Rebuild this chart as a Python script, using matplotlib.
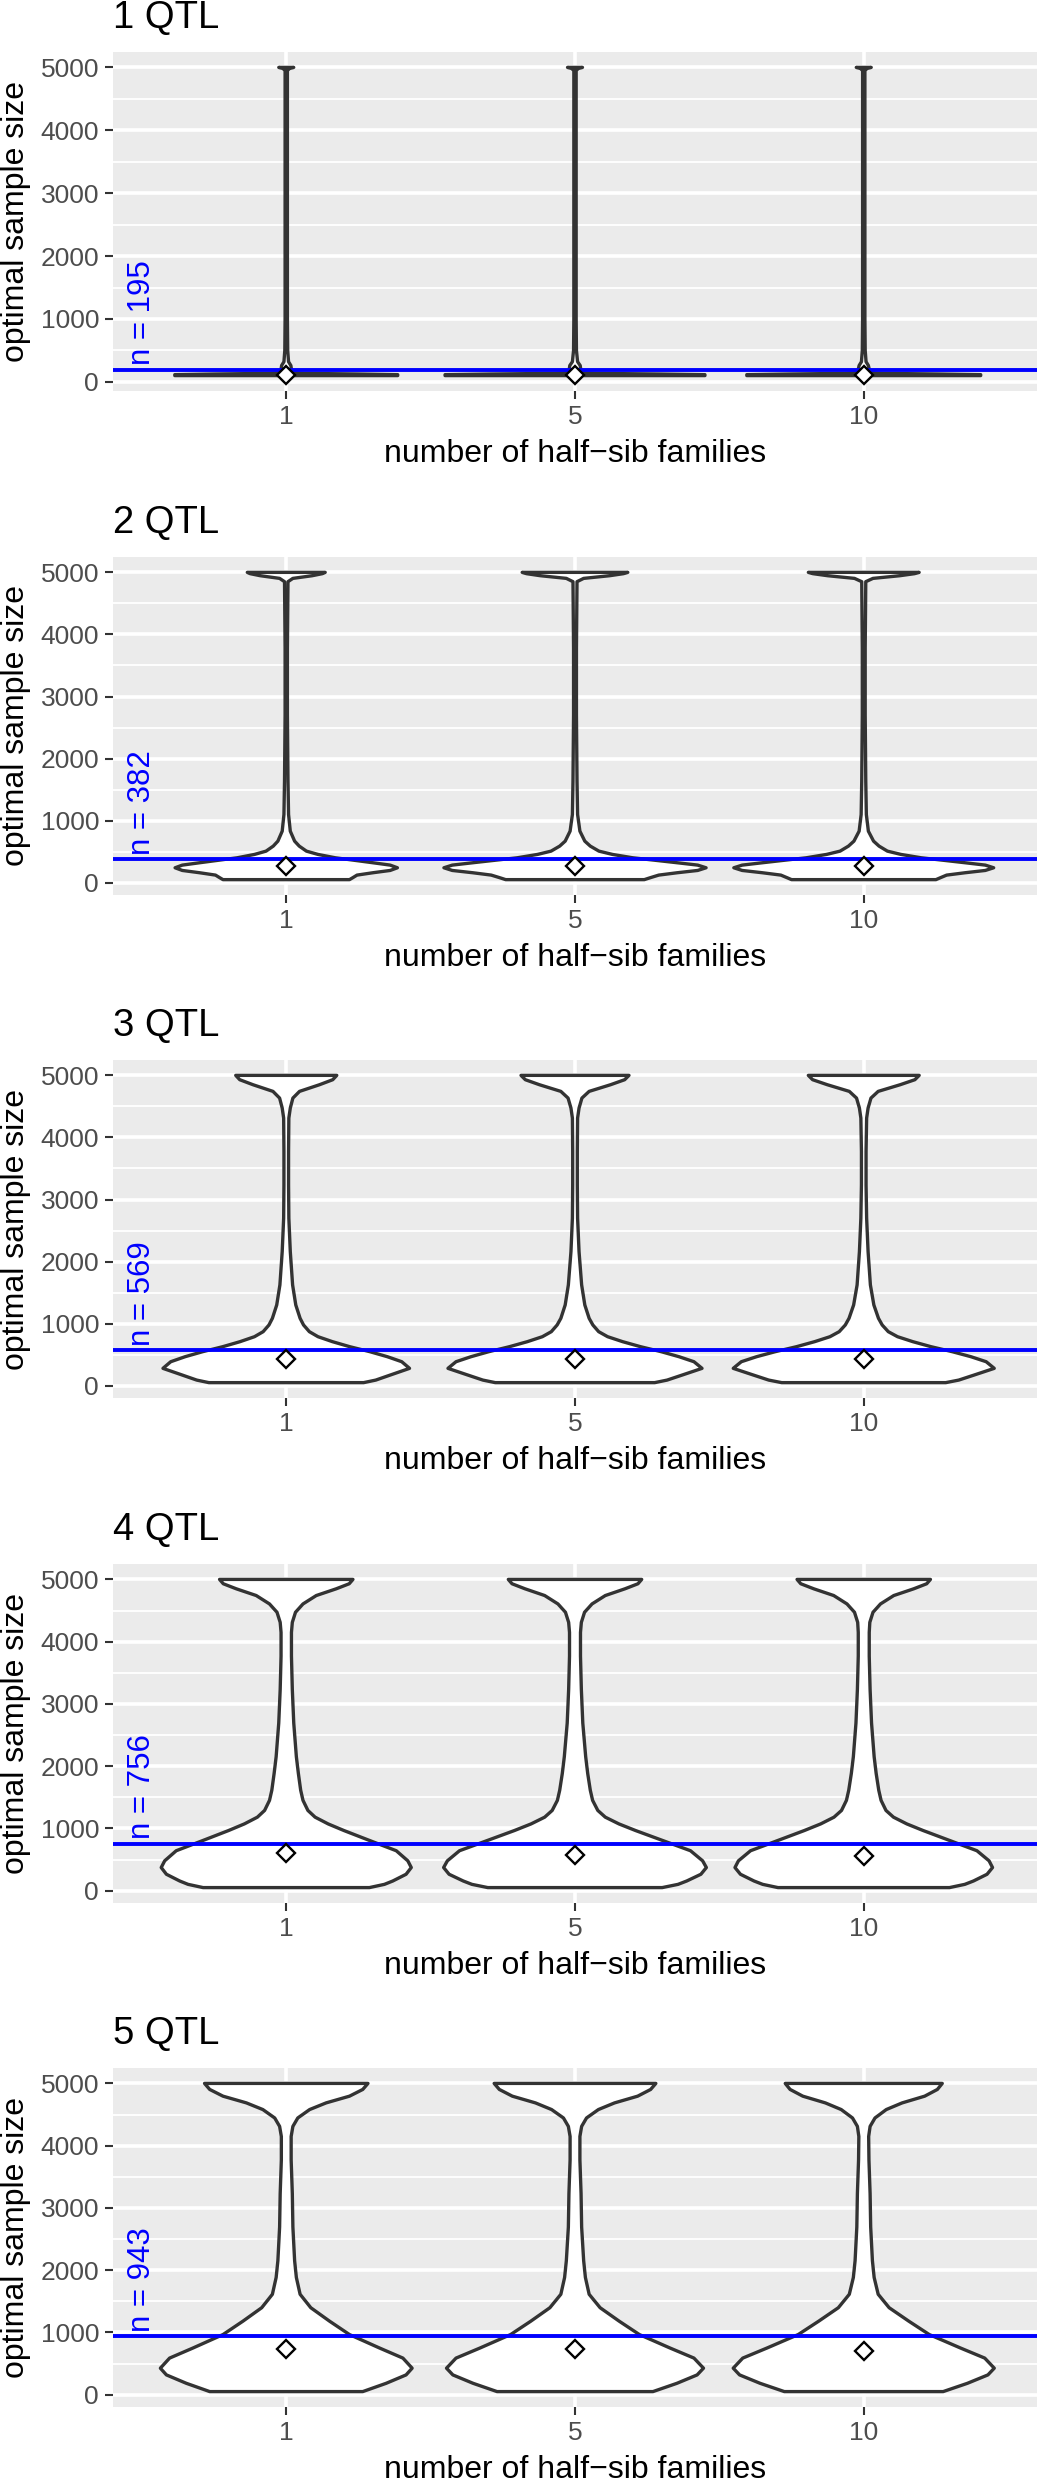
import matplotlib
matplotlib.use("Agg")
import matplotlib.pyplot as plt
import numpy as np

plt.rcParams['font.family'] = ['Liberation Sans', 'DejaVu Sans']

W, H = 1037, 2481

titles = ["1 QTL", "2 QTL", "3 QTL", "4 QTL", "5 QTL"]
n_values = [195, 382, 569, 756, 943]
categories = ["1", "5", "10"]
y_ticks = [0, 1000, 2000, 3000, 4000, 5000]
y_minor = [500, 1500, 2500, 3500, 4500]

# diamonds (per panel, per family count)
diamonds = [
    [110, 110, 110],
    [268, 265, 265],
    [430, 432, 425],
    [610, 570, 565],
    [740, 728, 707],
]

# violin outlines: y levels and half-widths (category units)
p1_y = [100, 115, 125, 135, 150, 200, 260, 320, 500, 1000, 4950, 4985, 5000]
p1_w1 = [0.386, 0.386, 0.25, 0.06, 0.022, 0.018, 0.016, 0.008, 0.005, 0.004, 0.004, 0.012, 0.026]
p1_w5 = [0.450, 0.450, 0.29, 0.07, 0.025, 0.020, 0.018, 0.009, 0.005, 0.004, 0.004, 0.012, 0.026]
p1_w10 = [0.405, 0.405, 0.26, 0.063, 0.023, 0.019, 0.016, 0.008, 0.005, 0.004, 0.004, 0.012, 0.026]

p2_y = [50, 80, 123, 161, 198, 241, 284, 322, 359, 402, 456, 509, 590, 670, 831, 1099,
        1634, 2706, 3778, 4850, 4903, 4946, 4979, 5000]
p2_w1 = [0.219, 0.23, 0.245, 0.30, 0.36, 0.385, 0.36, 0.30, 0.24, 0.17, 0.11, 0.07, 0.045,
         0.029, 0.014, 0.008, 0.006, 0.004, 0.004, 0.006, 0.023, 0.09, 0.125, 0.135]
p2_w5 = [0.24, 0.26, 0.29, 0.354, 0.425, 0.454, 0.425, 0.354, 0.283, 0.20, 0.13, 0.083, 0.053,
         0.034, 0.017, 0.009, 0.007, 0.005, 0.005, 0.007, 0.03, 0.12, 0.168, 0.183]
p2_w10 = [0.25, 0.265, 0.287, 0.351, 0.421, 0.450, 0.421, 0.351, 0.281, 0.199, 0.129, 0.082, 0.053,
          0.034, 0.016, 0.009, 0.007, 0.005, 0.005, 0.007, 0.032, 0.125, 0.176, 0.192]

p3_y = [50, 91, 172, 280, 387, 468, 548, 629, 710, 790, 871, 978, 1086, 1301, 1624, 2161,
        2699, 3236, 3774, 4312, 4473, 4634, 4742, 4849, 4930, 5000]
p3_w1 = [0.268, 0.31, 0.36, 0.427, 0.40, 0.35, 0.29, 0.22, 0.16, 0.11, 0.08, 0.06, 0.048,
         0.033, 0.022, 0.014, 0.009, 0.008, 0.008, 0.009, 0.014, 0.023, 0.046, 0.115, 0.161, 0.175]
p3_w5 = [0.276, 0.319, 0.371, 0.44, 0.412, 0.36, 0.299, 0.227, 0.165, 0.113, 0.082, 0.062, 0.049,
         0.034, 0.023, 0.014, 0.009, 0.008, 0.008, 0.009, 0.014, 0.024, 0.049, 0.123, 0.172, 0.187]
p3_w10 = [0.284, 0.329, 0.382, 0.452, 0.424, 0.371, 0.307, 0.233, 0.17, 0.117, 0.085, 0.064, 0.051,
          0.035, 0.023, 0.015, 0.01, 0.008, 0.008, 0.01, 0.015, 0.025, 0.05, 0.126, 0.177, 0.192]

p4_y = [50, 102, 156, 264, 372, 480, 642, 804, 966, 1073, 1181, 1289, 1451, 1613, 1883, 2152,
        2692, 3231, 3770, 4148, 4310, 4472, 4606, 4741, 4849, 4930, 5000]
p4_w1 = [0.288, 0.34, 0.369, 0.415, 0.433, 0.421, 0.381, 0.29, 0.20, 0.145, 0.10, 0.075, 0.058,
         0.05, 0.042, 0.035, 0.026, 0.021, 0.018, 0.018, 0.021, 0.032, 0.058, 0.104, 0.173, 0.218, 0.231]
p4_w5 = [0.302, 0.357, 0.387, 0.436, 0.455, 0.442, 0.40, 0.305, 0.21, 0.152, 0.105, 0.079, 0.061,
         0.053, 0.044, 0.037, 0.027, 0.022, 0.019, 0.019, 0.022, 0.033, 0.059, 0.105, 0.173, 0.218, 0.231]
p4_w10 = [0.297, 0.35, 0.38, 0.427, 0.446, 0.434, 0.392, 0.299, 0.206, 0.149, 0.103, 0.077, 0.06,
          0.052, 0.043, 0.036, 0.027, 0.022, 0.019, 0.019, 0.021, 0.032, 0.058, 0.104, 0.173, 0.218, 0.231]

p5_y = [50, 183, 318, 426, 588, 750, 966, 1181, 1397, 1613, 1883, 2152, 2692, 3231, 3770,
        4148, 4310, 4445, 4580, 4687, 4795, 4903, 5000]
p5_w1 = [0.265, 0.346, 0.415, 0.436, 0.404, 0.323, 0.219, 0.15, 0.085, 0.048, 0.035, 0.029,
         0.023, 0.021, 0.017, 0.017, 0.023, 0.040, 0.081, 0.138, 0.219, 0.265, 0.283]
p5_w5 = [0.27, 0.353, 0.423, 0.445, 0.412, 0.329, 0.223, 0.153, 0.087, 0.049, 0.036, 0.03,
         0.023, 0.021, 0.017, 0.017, 0.023, 0.04, 0.081, 0.137, 0.217, 0.262, 0.280]
p5_w10 = [0.275, 0.359, 0.43, 0.452, 0.419, 0.335, 0.227, 0.156, 0.088, 0.05, 0.036, 0.03,
          0.024, 0.022, 0.018, 0.017, 0.022, 0.039, 0.078, 0.133, 0.211, 0.255, 0.272]

profiles_y = [p1_y, p2_y, p3_y, p4_y, p5_y]
profiles_w = [[p1_w1, p1_w5, p1_w10], [p2_w1, p2_w5, p2_w10], [p3_w1, p3_w5, p3_w10],
              [p4_w1, p4_w5, p4_w10], [p5_w1, p5_w5, p5_w10]]
ylims = [(-145, 5245), (-197.5, 5247.5), (-197.5, 5247.5), (-197.5, 5247.5), (-197.5, 5247.5)]

# panel boxes in pixels (top, bottom)
boxes = [(52, 391), (557, 895), (1060, 1398), (1564, 1903), (2068, 2407)]
left_px = 113

fig = plt.figure(figsize=(W / 100, H / 100), dpi=100)
fig.patch.set_facecolor('white')

for k in range(5):
    top, bot = boxes[k]
    ax = fig.add_axes([left_px / W, 1 - bot / H, (W - left_px) / W, (bot - top) / H])
    ax.set_facecolor('#EBEBEB')
    for s in ax.spines.values():
        s.set_visible(False)
    ax.set_axisbelow(True)

    yy = np.array(profiles_y[k])
    for i, ww in enumerate(profiles_w[k]):
        ww = np.array(ww)
        pos = i + 1
        xs = np.concatenate([pos - ww, (pos + ww)[::-1]])
        ys = np.concatenate([yy, yy[::-1]])
        ax.fill(xs, ys, facecolor='white', edgecolor='#333333', lw=2.4,
                joinstyle='round', zorder=2)

    ax.axhline(n_values[k], color='blue', lw=2.8, zorder=3)
    ax.plot([1, 2, 3], diamonds[k], ls='none', marker='D', ms=9.5, mfc='white',
            mec='black', mew=1.7, zorder=4)
    ax.annotate("n = %d" % n_values[k], xy=(0.5, n_values[k]), xytext=(0, 3),
                textcoords='offset points', rotation=90, rotation_mode='anchor',
                ha='left', va='center', color='blue', fontsize=22.5, zorder=5)

    ax.set_xlim(0.4, 3.6)
    ax.set_ylim(*ylims[k])
    ax.set_xticks([1, 2, 3])
    ax.set_xticklabels(categories)
    ax.set_yticks(y_ticks)
    ax.set_yticks(y_minor, minor=True)
    ax.grid(which='major', color='white', lw=2.6)
    ax.grid(which='minor', axis='y', color='white', lw=1.3)
    ax.tick_params(which='major', length=6, width=1.5, color='#333333',
                   labelsize=19, labelcolor='#4D4D4D', pad=4)
    ax.tick_params(which='minor', length=0)

    ax.set_title(titles[k], loc='left', fontsize=27.5, pad=17)
    ax.set_xlabel("number of half\u2212sib families", fontsize=23)
    ax.set_ylabel("optimal sample size", fontsize=23)
    hpx = bot - top
    ax.xaxis.set_label_coords(0.5, -63 / hpx)
    ax.xaxis.label.set_va('center')
    ax.yaxis.set_label_coords((16 - left_px) / (W - left_px), 0.5)
    ax.yaxis.label.set_va('center')

fig.savefig("out.png", dpi=100)
